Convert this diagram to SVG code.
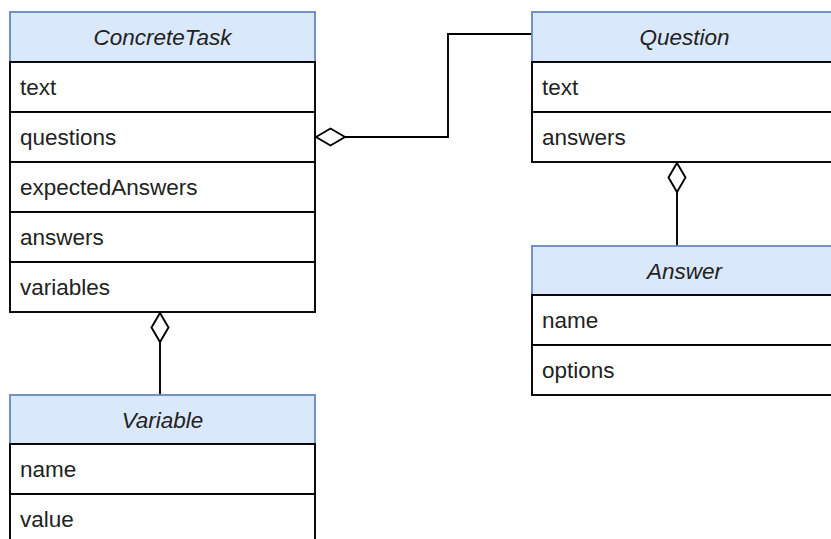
<svg xmlns="http://www.w3.org/2000/svg" width="831" height="539" viewBox="0 0 831 539">
  <style>
    .hdr { fill: #dae8fc; stroke: #6c8ebf; stroke-width: 1.9; }
    .row { fill: #ffffff; stroke: #000000; stroke-width: 1.9; }
    .title { font-family: "Liberation Sans", Arial, sans-serif; font-size: 22.5px; font-style: italic; fill: #222222; text-anchor: middle; }
    .attr { font-family: "Liberation Sans", Arial, sans-serif; font-size: 22.5px; fill: #222222; }
    .edge { fill: none; stroke: #000000; stroke-width: 1.9; }
    .diamond { fill: #ffffff; stroke: #000000; stroke-width: 1.9; }
  </style>
  <rect width="831" height="539" fill="#ffffff"/>

  <!-- connectors -->
  <g id="connectors">
    <path class="edge" d="M345 137 H448 V34 H532"/>
    <polygon class="diamond" points="316,137 330.5,128.5 345,137 330.5,145.5"/>
    <path class="edge" d="M677 192 V246"/>
    <polygon class="diamond" points="677,163 685.5,177.5 677,192 668.5,177.5"/>
    <path class="edge" d="M160 342 V395"/>
    <polygon class="diamond" points="160,313 168.5,327.5 160,342 151.5,327.5"/>
  </g>

  <!-- ConcreteTask -->
  <g id="concrete-task">
    <rect class="hdr" x="10" y="12" width="305" height="50"/>
    <text class="title" x="162.5" y="45">ConcreteTask</text>
    <rect class="row" x="10" y="62" width="305" height="50"/>
    <text class="attr" x="20" y="95">text</text>
    <rect class="row" x="10" y="112" width="305" height="50"/>
    <text class="attr" x="20" y="145">questions</text>
    <rect class="row" x="10" y="162" width="305" height="50"/>
    <text class="attr" x="20" y="195">expectedAnswers</text>
    <rect class="row" x="10" y="212" width="305" height="50"/>
    <text class="attr" x="20" y="245">answers</text>
    <rect class="row" x="10" y="262" width="305" height="50"/>
    <text class="attr" x="20" y="295">variables</text>
  </g>

  <!-- Question -->
  <g id="question">
    <rect class="hdr" x="532" y="12" width="305" height="50"/>
    <text class="title" x="684.5" y="45">Question</text>
    <rect class="row" x="532" y="62" width="305" height="50"/>
    <text class="attr" x="542" y="95">text</text>
    <rect class="row" x="532" y="112" width="305" height="50"/>
    <text class="attr" x="542" y="145">answers</text>
  </g>

  <!-- Answer -->
  <g id="answer">
    <rect class="hdr" x="532" y="246" width="305" height="49"/>
    <text class="title" x="684.5" y="278.5">Answer</text>
    <rect class="row" x="532" y="295" width="305" height="50"/>
    <text class="attr" x="542" y="328">name</text>
    <rect class="row" x="532" y="345" width="305" height="50"/>
    <text class="attr" x="542" y="378">options</text>
  </g>

  <!-- Variable -->
  <g id="variable">
    <rect class="hdr" x="10" y="395" width="305" height="49"/>
    <text class="title" x="162.5" y="427.5">Variable</text>
    <rect class="row" x="10" y="444" width="305" height="50"/>
    <text class="attr" x="20" y="477">name</text>
    <rect class="row" x="10" y="494" width="305" height="50"/>
    <text class="attr" x="20" y="527">value</text>
  </g>
</svg>
